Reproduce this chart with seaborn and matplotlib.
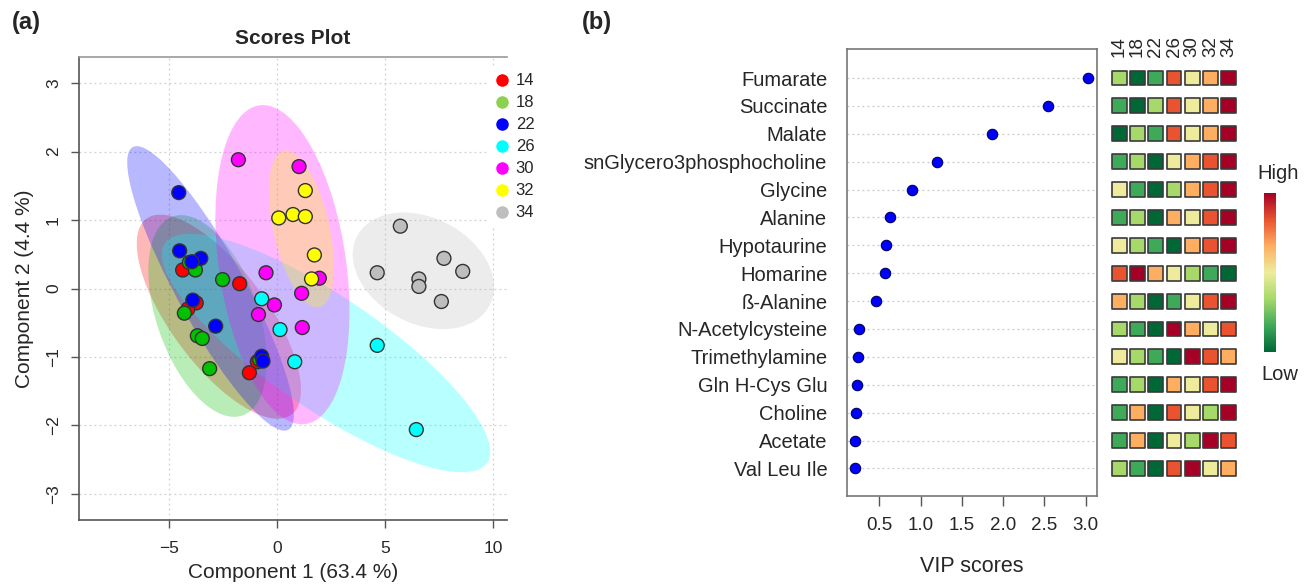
import numpy as np
import pandas as pd
import matplotlib
matplotlib.use("Agg")
import matplotlib.pyplot as plt
from matplotlib.patches import Ellipse
from matplotlib.lines import Line2D
from matplotlib.colors import LinearSegmentedColormap
from matplotlib.cm import ScalarMappable
import seaborn as sns

sns.set_theme(style="white")
plt.rcParams["font.family"] = ["Liberation Sans", "DejaVu Sans"]

# ---- scores plot data ----
groups = ["14", "18", "22", "26", "30", "32", "34"]
point_colors = ["#FF0000", "#00C000", "#0000FF", "#00FFFF", "#FF00FF", "#FFFF00", "#BEBEBE"]
legend_colors = ["#FF0000", "#8CD150", "#0000FF", "#00FFFF", "#FF00FF", "#FFFF00", "#BEBEBE"]

# one 18 sample sits hidden under the blue pair near (-0.7, -1.05)
sample_group = (["14"] * 6 + ["18"] * 8 + ["22"] * 8 + ["26"] * 5
                + ["30"] * 8 + ["32"] * 6 + ["34"] * 7)
comp1 = [-4.37, -1.73, -3.74, -4.13, -0.91, -1.28,
         -4.06, -3.78, -2.52, -4.29, -3.69, -3.46, -3.12, -0.80,
         -4.55, -4.51, -3.53, -3.94, -3.90, -2.84, -0.71, -0.65,
         -0.71, 0.14, 0.82, 4.64, 6.45,
         -1.79, 1.02, 1.96, -0.51, 1.14, -0.12, -0.86, 1.17,
         0.08, 0.74, 1.31, 1.31, 1.73, 1.60,
         5.71, 7.73, 4.64, 8.60, 6.57, 6.57, 7.61]
comp2 = [0.27, 0.07, -0.21, -0.30, -1.07, -1.23,
         0.38, 0.27, 0.13, -0.36, -0.69, -0.73, -1.17, -1.04,
         1.40, 0.55, 0.44, 0.39, -0.17, -0.55, -0.99, -1.06,
         -0.15, -0.60, -1.07, -0.83, -2.06,
         1.88, 1.78, 0.15, 0.23, -0.07, -0.24, -0.38, -0.57,
         1.03, 1.08, 1.05, 1.43, 0.49, 0.14,
         0.91, 0.44, 0.23, 0.25, 0.14, 0.03, -0.19]

# ---- VIP data ----
metabolites = ["Fumarate", "Succinate", "Malate", "snGlycero3phosphocholine",
               "Glycine", "Alanine", "Hypotaurine", "Homarine", "ß-Alanine",
               "N-Acetylcysteine", "Trimethylamine", "Gln H-Cys Glu",
               "Choline", "Acetate", "Val Leu Ile"]
vip = [3.03, 2.54, 1.87, 1.20, 0.89, 0.63, 0.58, 0.57, 0.46,
       0.25, 0.24, 0.23, 0.22, 0.21, 0.21]

# relative level per group (1 = lowest, 7 = highest), same row order
levels = [
    [3, 1, 2, 6, 4, 5, 7],
    [2, 1, 3, 6, 4, 5, 7],
    [1, 3, 2, 6, 4, 5, 7],
    [2, 3, 1, 4, 5, 6, 7],
    [4, 2, 1, 3, 5, 6, 7],
    [2, 3, 1, 5, 4, 6, 7],
    [4, 3, 2, 1, 5, 6, 7],
    [6, 7, 5, 4, 3, 2, 1],
    [5, 3, 1, 2, 4, 6, 7],
    [3, 2, 1, 7, 5, 4, 6],
    [4, 3, 2, 1, 7, 6, 5],
    [2, 3, 1, 5, 4, 6, 7],
    [2, 5, 1, 6, 4, 3, 7],
    [2, 5, 1, 4, 3, 7, 6],
    [3, 2, 1, 6, 7, 4, 5],
]
heat_colors = ["#006837", "#3FA95A", "#A6D96A", "#EEEC9C", "#FDAE61", "#E9532F", "#A50026"]

W, H = 1309, 585
fig = plt.figure(figsize=(W / 100, H / 100), dpi=100)


def fig_rect(left, top, right, bottom):
    return [left / W, 1 - bottom / H, (right - left) / W, (bottom - top) / H]


# =================== (a) scores plot ===================
ax = fig.add_axes(fig_rect(79, 57, 507, 520))
scores = pd.DataFrame({"group": sample_group, "c1": comp1, "c2": comp2})

# 95% confidence ellipses per group
for g, c in zip(groups, point_colors):
    sub = scores[scores["group"] == g]
    cov = np.cov(sub["c1"], sub["c2"])
    vals, vecs = np.linalg.eigh(cov)
    angle = np.degrees(np.arctan2(vecs[1, 1], vecs[0, 1]))
    k = np.sqrt(5.991)
    ell = Ellipse((sub["c1"].mean(), sub["c2"].mean()),
                  width=2 * k * np.sqrt(vals[1]), height=2 * k * np.sqrt(vals[0]),
                  angle=angle, facecolor=c, edgecolor="none", alpha=0.28, zorder=1)
    ax.add_patch(ell)

sns.scatterplot(data=scores, x="c1", y="c2", hue="group", hue_order=groups,
                palette=point_colors, s=100, edgecolor="#333333", linewidth=1.0,
                legend=False, zorder=3, ax=ax)

ax.set_xlim(-9.17, 10.65)
ax.set_ylim(-3.38, 3.38)
ax.set_xticks([-5, 0, 5, 10])
ax.set_yticks([-3, -2, -1, 0, 1, 2, 3])
ax.grid(True, linestyle=(0, (1.5, 2.5)), color="#D0D0D0", linewidth=0.9, zorder=0)
ax.set_axisbelow(True)
for side in ["left", "bottom"]:
    ax.spines[side].set_color("#555555")
    ax.spines[side].set_linewidth(1.2)
ax.spines["top"].set_color("#999999")
ax.spines["top"].set_linewidth(1.2)
ax.spines["right"].set_visible(False)
ax.tick_params(axis="both", direction="out", length=6, width=1, color="#555555",
               labelsize=12.5, left=True, bottom=True)
ax.tick_params(axis="x", pad=9)
ax.tick_params(axis="y", pad=7)
for lab in ax.get_yticklabels():
    lab.set_rotation(90)
    lab.set_va("center")
ax.set_xlabel("Component 1 (63.4 %)", fontsize=15)
ax.xaxis.set_label_coords(0.5, -0.093)
ax.set_ylabel("Component 2 (4.4 %)", fontsize=15)
ax.yaxis.set_label_coords(-0.104, 0.5)
ax.set_title("Scores Plot", fontsize=15, fontweight="bold", pad=9)

handles = [Line2D([0], [0], marker="o", ls="", markerfacecolor=c, markeredgecolor=c,
                  markersize=8) for c in legend_colors]
ax.legend(handles, groups, loc="upper left", bbox_to_anchor=(479 / W, 1 - 60 / H),
          bbox_transform=fig.transFigure, frameon=True, facecolor="white",
          edgecolor="white", framealpha=1, fontsize=12, labelspacing=0.42,
          handletextpad=0.2, handlelength=1.2, borderpad=0.3)

# =================== (b) VIP scores ===================
ax_v = fig.add_axes(fig_rect(846.7, 49, 1097.3, 496))
sns.stripplot(x=vip, y=metabolites, jitter=False, color="#0000FF", edgecolor="#00005A",
              linewidth=0.8, size=7.5, zorder=3, ax=ax_v)
ax_v.set_xlim(0.105, 3.14)
ax_v.set_ylim(14.99, -1.04)
ax_v.set_xticks([0.5, 1.0, 1.5, 2.0, 2.5, 3.0])
ax_v.set_xticklabels(["0.5", "1.0", "1.5", "2.0", "2.5", "3.0"])
ax_v.grid(True, axis="y", linestyle=(0, (1.5, 2.5)), color="#C8C8C8", linewidth=0.9)
ax_v.grid(False, axis="x")
for side in ax_v.spines.values():
    side.set_color("#777777")
    side.set_linewidth(1.2)
ax_v.tick_params(axis="y", length=0, pad=14, labelsize=14.5)
ax_v.tick_params(axis="x", direction="out", length=7, width=1, color="#555555",
                 labelsize=13.5, pad=8, bottom=True)
ax_v.set_xlabel("VIP scores", fontsize=15.5, labelpad=16)

# heat strip
ax_h = fig.add_axes(fig_rect(1108, 49, 1240, 496))
cells = pd.DataFrame([(r, c, levels[r][c]) for r in range(len(metabolites))
                      for c in range(len(groups))], columns=["row", "col", "level"])
sns.scatterplot(data=cells, x="col", y="row", hue="level", hue_order=list(range(1, 8)),
                palette=heat_colors, marker="s", s=115, edgecolor="#3A3A3A",
                linewidth=1.2, legend=False, ax=ax_h)
ax_h.set_xlim(-0.62, 6.62)
ax_h.set_ylim(14.99, -1.04)
ax_h.axis("off")
for i, g in enumerate(groups):
    ax_h.text(i, -0.75, g, rotation=90, ha="center", va="bottom", fontsize=13.5)

# colour key
ax_cb = fig.add_axes(fig_rect(1264, 193, 1276, 352))
cmap = LinearSegmentedColormap.from_list("lowhigh", heat_colors)
cb = fig.colorbar(ScalarMappable(cmap=cmap), cax=ax_cb)
cb.outline.set_visible(False)
cb.set_ticks([])
fig.text(1278 / W, 1 - 173 / H, "High", ha="center", va="center", fontsize=14.5)
fig.text(1280 / W, 1 - 375 / H, "Low", ha="center", va="center", fontsize=14.5)

# panel tags
fig.text(26 / W, 1 - 22 / H, "(a)", ha="center", va="center", fontsize=17, fontweight="bold")
fig.text(597 / W, 1 - 22 / H, "(b)", ha="center", va="center", fontsize=17, fontweight="bold")

fig.savefig("out.png", dpi=100)
